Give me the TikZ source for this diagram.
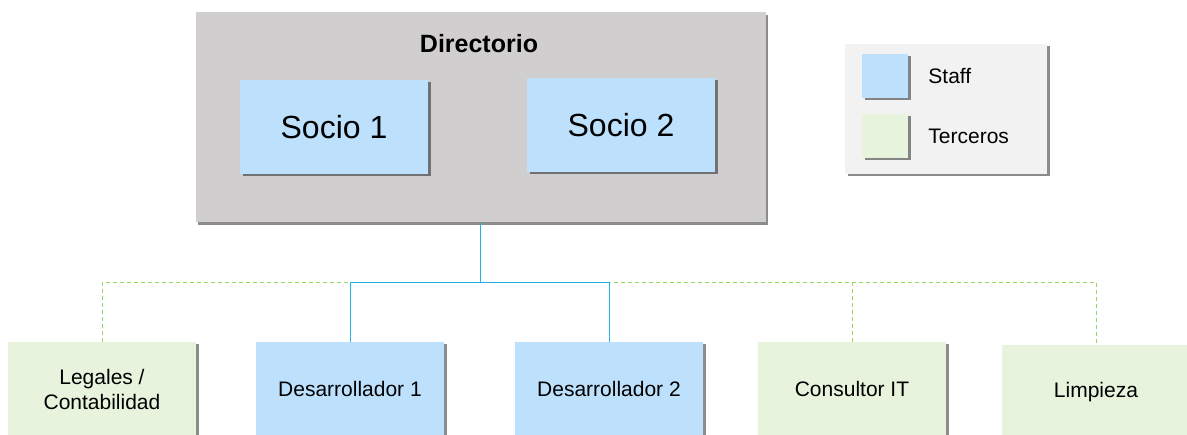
\documentclass[tikz,border=0pt]{standalone}
\usepackage{fontspec}
\setmainfont{Liberation Sans}
\usetikzlibrary{positioning,shadows,calc}
\definecolor{staffblue}{RGB}{189,225,252}
\definecolor{tercgreen}{RGB}{231,243,221}
\definecolor{dirgray}{RGB}{208,206,206}
\definecolor{legendgray}{RGB}{242,242,242}
\definecolor{staffline}{RGB}{30,180,235}
\definecolor{tercline}{RGB}{150,215,95}
\tikzset{
  boxshadow/.style={drop shadow={shadow xshift=2.5pt,shadow yshift=-2.5pt,fill=black,opacity=.45}},
  staffbox/.style={rectangle,fill=staffblue,boxshadow,align=center},
  tercbox/.style={rectangle,fill=tercgreen,boxshadow,align=center},
  unitbox/.style={minimum width=188pt,minimum height=94pt,font=\fontsize{21}{25}\selectfont},
  staffconn/.style={draw=staffline,line width=1pt},
  tercconn/.style={draw=tercline,line width=1pt,dash pattern=on 4pt off 3pt},
}

\begin{document}
\begin{tikzpicture}[x=1pt,y=-1pt]
\useasboundingbox (0,0) rectangle (1187,435);

% directorio
\node[rectangle,fill=dirgray,boxshadow,minimum width=570pt,minimum height=210pt] (dir) at (480.5,117.5) {};
\node[font=\bfseries\fontsize{25}{29}\selectfont] (dirtitle) at (479,44) {Directorio};
\node[staffbox,minimum width=188pt,minimum height=94pt,font=\fontsize{32}{36}\selectfont] (socio1) at (334,127) {Socio 1};
\node[staffbox,minimum width=188pt,minimum height=94pt,font=\fontsize{32}{36}\selectfont] (socio2) at (621,125) {Socio 2};

% legend
\node[rectangle,fill=legendgray,boxshadow,minimum width=202pt,minimum height=130pt] (legend) at (946,109) {};
\node[staffbox,minimum width=46pt,minimum height=44pt] (staffkey) at (885,76) {};
\node[tercbox,minimum width=46pt,minimum height=44pt] (terckey) at (885,136) {};
\node[right=20pt of staffkey,inner sep=0pt,font=\fontsize{21}{25}\selectfont] (stafflbl) {Staff};
\node[right=20pt of terckey,inner sep=0pt,font=\fontsize{21}{25}\selectfont] (terclbl) {Terceros};

% areas
\node[tercbox,unitbox] (legales) at (102,389) {Legales /\\Contabilidad};
\node[staffbox,unitbox] (des1) at (350,389) {Desarrollador 1};
\node[staffbox,unitbox] (des2) at (609,389) {Desarrollador 2};
\node[tercbox,unitbox] (consultor) at (852,389) {Consultor IT};
\node[tercbox,unitbox] (limpieza) at (1096,392) {Limpieza};

% connectors
\coordinate (bus) at ($(dir.south)+(0,60)$);
\draw[tercconn] (dir.south) -- (bus);
\draw[tercconn] (bus) -| (legales.north);
\draw[tercconn] (bus) -| (consultor.north);
\draw[tercconn] (bus) -| (limpieza.north);
\draw[staffconn] (dir.south) -- (bus);
\draw[staffconn] (bus) -| (des1.north);
\draw[staffconn] (bus) -| (des2.north);

\end{tikzpicture}
\end{document}
